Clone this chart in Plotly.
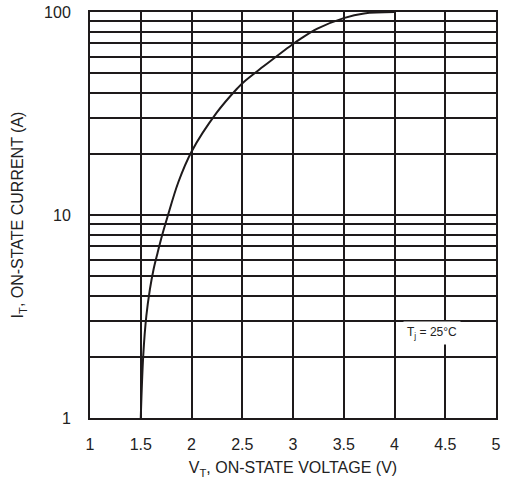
import plotly.graph_objects as go

# Curve (V_T in volts, I_T in amperes)
v_t = [1.50, 1.525, 1.555, 1.59, 1.625, 1.665, 1.70, 1.76, 1.87, 2.00, 2.25, 2.45,
       2.51, 2.71, 2.99, 3.07, 3.24, 3.50, 3.70, 4.00]
i_t = [1.0, 2.05, 3.18, 4.3, 5.36, 6.48, 7.6, 9.66, 14.5, 20.5, 32.0, 42.0,
       45.0, 54.0, 69.0, 73.5, 82.8, 93.3, 98.4, 100.0]

x_ticks = [1, 1.5, 2, 2.5, 3, 3.5, 4, 4.5, 5]
x_tick_text = ["1", "1.5", "2", "2.5", "3", "3.5", "4", "4.5", "5"]
y_grid = [1, 2, 3, 4, 5, 6, 7, 8, 9, 10, 20, 30, 40, 50, 60, 70, 80, 90, 100]
y_labels = {1: "1", 10: "10", 100: "100"}
y_tick_text = [y_labels.get(v, "") for v in y_grid]

ink = "#1e1a1b"
txt = "#222222"
font = "Liberation Sans, Arial, sans-serif"

fig = go.Figure()
fig.add_trace(go.Scatter(x=v_t, y=i_t, mode="lines",
                         line=dict(color=ink, width=2, shape="spline", smoothing=1.0),
                         showlegend=False, hoverinfo="skip"))

fig.add_annotation(x=4.37, y=0.42, xref="x", yref="y",
                   text="T<sub><span style='color:#222222'>j</span></sub> = 25°C",
                   showarrow=False,
                   font=dict(family=font, size=12, color=txt),
                   bgcolor="white", borderpad=3)

fig.update_layout(
    width=506, height=485,
    margin=dict(l=90, r=10, t=12, b=67),
    paper_bgcolor="white", plot_bgcolor="white",
    font=dict(family=font, size=16, color=txt),
)
fig.update_xaxes(range=[1, 5], tickvals=x_ticks, ticktext=x_tick_text,
                 showgrid=True, gridcolor=ink, gridwidth=2,
                 showline=True, linecolor=ink, linewidth=2, mirror=True,
                 ticks="", ticklabelstandoff=11, zeroline=False, automargin=False,
                 tickfont=dict(family=font, size=16, color=txt),
                 title=dict(text="V<sub>T</sub>, ON-STATE VOLTAGE (V)",
                            font=dict(family=font, size=16, color=txt), standoff=10))
fig.update_yaxes(type="log", range=[0, 2], tickvals=y_grid, ticktext=y_tick_text,
                 showgrid=True, gridcolor=ink, gridwidth=2,
                 showline=True, linecolor=ink, linewidth=2, mirror=True,
                 ticks="", ticklabelstandoff=14, zeroline=False, automargin=False,
                 tickfont=dict(family=font, size=16, color=txt),
                 title=dict(text="I<sub>T</sub>, ON-STATE CURRENT (A)",
                            font=dict(family=font, size=16, color=txt), standoff=16))

fig.write_html("out.html", config={"displayModeBar": False},
               post_script="document.body.style.margin='0';document.body.style.overflow='hidden';")
